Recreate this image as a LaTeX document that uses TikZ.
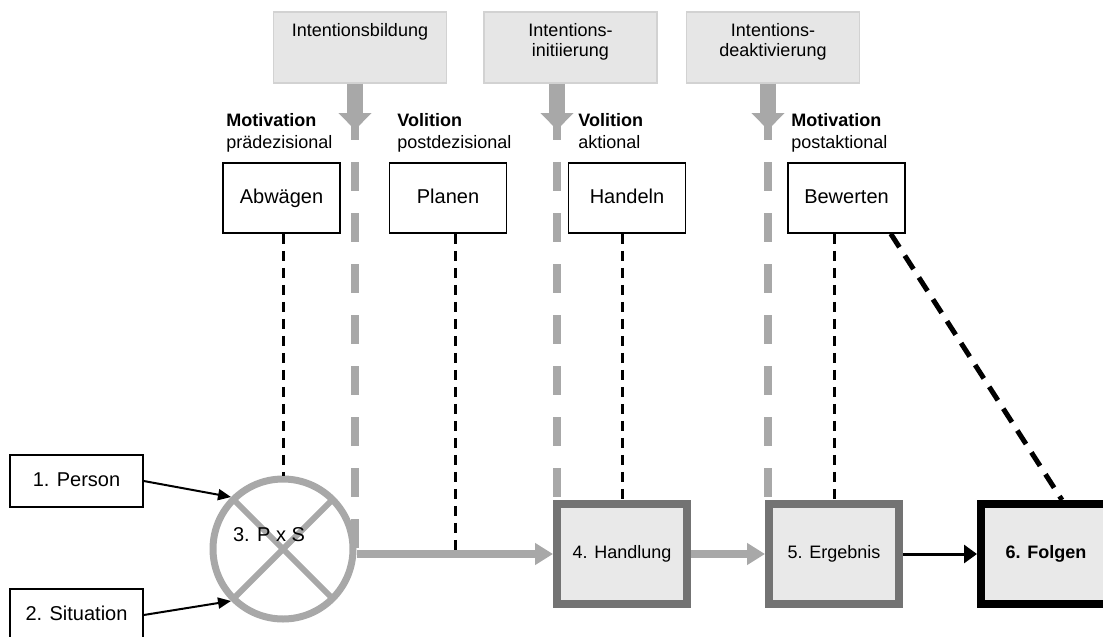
\documentclass[tikz,border=0pt]{standalone}
\usepackage{fontspec}
\setmainfont{Liberation Sans}
\usetikzlibrary{positioning, arrows.meta}
\definecolor{phaseGrey}{HTML}{A8A8A8}
\definecolor{frameGrey}{HTML}{737373}
\definecolor{stageFill}{HTML}{E9E9E9}
\definecolor{intentFill}{HTML}{E6E6E6}
\definecolor{intentLine}{HTML}{D2D2D2}

\begin{document}
\begin{tikzpicture}[
  x=0.5pt, y=-0.5pt,
  intent/.style={rectangle, fill=intentFill, draw=intentLine, line width=0.6pt,
                 minimum width=86.5pt, inner sep=0pt, text height=12pt, text depth=23.5pt,
                 align=center, font=\fontsize{9}{10}\selectfont},
  intenttwo/.style={intent, text height=22pt, text depth=13.5pt},
  stage/.style={rectangle, draw, fill=white, line width=0.75pt, minimum width=58.5pt,
                minimum height=35pt, text height=7.5pt, text depth=2pt,
                font=\fontsize{10}{12}\selectfont},
  cause/.style={stage, minimum width=66.5pt, minimum height=26pt},
  outcome/.style={rectangle, draw=frameGrey, fill=stageFill, line width=4pt,
                  minimum width=65pt, minimum height=50pt, font=\fontsize{9}{11}\selectfont},
  phase/.style={anchor=north west, inner sep=0pt, align=left, font=\fontsize{9}{11}\selectfont},
  phaseline/.style={draw=phaseGrey, line width=4pt, dash pattern=on 14.5pt off 11pt},
  intentarrow/.style={draw=phaseGrey, line width=8pt, -{Triangle[length=8.5pt, width=16pt]}},
  flow/.style={draw=phaseGrey, line width=4pt, -{Triangle[length=9pt, width=10.5pt]}},
  input/.style={line width=1pt, -{Triangle[length=6.5pt, width=5.5pt]}},
  link/.style={line width=1.5pt, dash pattern=on 5pt off 3.5pt},
  effect/.style={line width=2.5pt, dash pattern=on 8pt off 5pt}
]
\useasboundingbox (0,0) rectangle (1103,637);

\node[intent] (ib) at (360,47.5) {Intentionsbildung};
\node[intenttwo] (ii) at (570.5,47.5) {Intentions-\\initiierung};
\node[intenttwo] (id) at (773,47.5) {Intentions-\\deaktivierung};

\node[phase] (pm1) at (226,113) {\textbf{Motivation}\\prädezisional};
\node[phase] (pv1) at (397,113) {\textbf{Volition}\\postdezisional};
\node[phase] (pv2) at (578,113) {\textbf{Volition}\\aktional};
\node[phase] (pm2) at (791,113) {\textbf{Motivation}\\postaktional};

\node[stage] (abw) at (281.5,198) {Abwägen};
\node[stage] (pla) at (448,198) {Planen};
\node[stage] (han) at (627,198) {Handeln};
\node[stage] (bew) at (846.5,198) {Bewerten};

\node[cause] (per) at (76.5,481) {1. Person};
\node[cause] (sit) at (76.5,615) {2. Situation};

\node[circle, draw=phaseGrey, line width=3.5pt, minimum size=70pt, inner sep=0pt,
  path picture={\draw[phaseGrey, line width=3pt]
    (path picture bounding box.north west) -- (path picture bounding box.south east)
    (path picture bounding box.north east) -- (path picture bounding box.south west);},
  label={[font=\fontsize{10}{12}\selectfont, xshift=-7pt, yshift=7pt]center:3. P x S}]
  (pxs) at (283,549) {};

\node[outcome] (h4) at (622,554) {4. Handlung};
\node[outcome] (e5) at (834,554) {5. Ergebnis};
\node[outcome, draw=black] (f6) at (1046,554) {\textbf{6. Folgen}};

\coordinate (g1) at (355,111);
\coordinate (g2) at (557,111);
\coordinate (g3) at (768,111);
\coordinate (t1) at (355,130);
\coordinate (t2) at (557,130);
\coordinate (t3) at (768,130);

\draw[phaseline] (g1) -- (g1 |- h4.west);
\draw[phaseline] (g2) -- (g2 |- h4.north);
\draw[phaseline] (g3) -- (g3 |- e5.north);

\draw[intentarrow] (ib.south -| t1) -- (t1);
\draw[intentarrow] (ii.south -| t2) -- (t2);
\draw[intentarrow] (id.south -| t3) -- (t3);

\draw[link] (pxs.north |- abw.south) -- (pxs.north);
\draw[link] ([xshift=3.5pt]pla.south) -- ([xshift=3.5pt]pla.south |- h4.west);
\draw[link] (h4.north |- han.south) -- (h4.north);
\draw[link] (e5.north |- bew.south) -- (e5.north);
\draw[effect] ([xshift=-7.5pt]bew.south east) -- ([xshift=8pt]f6.north);

\draw[input] (per.east) -- (pxs.135);
\draw[input] (sit.east) -- (pxs.225);

\draw[flow] (pxs.east |- h4.west) -- (h4.west);
\draw[flow] (h4.east) -- (e5.west);
\draw[line width=1.5pt, -{Triangle[length=6.5pt, width=9pt]}] (e5.east) -- (f6.west);
\end{tikzpicture}
\end{document}
